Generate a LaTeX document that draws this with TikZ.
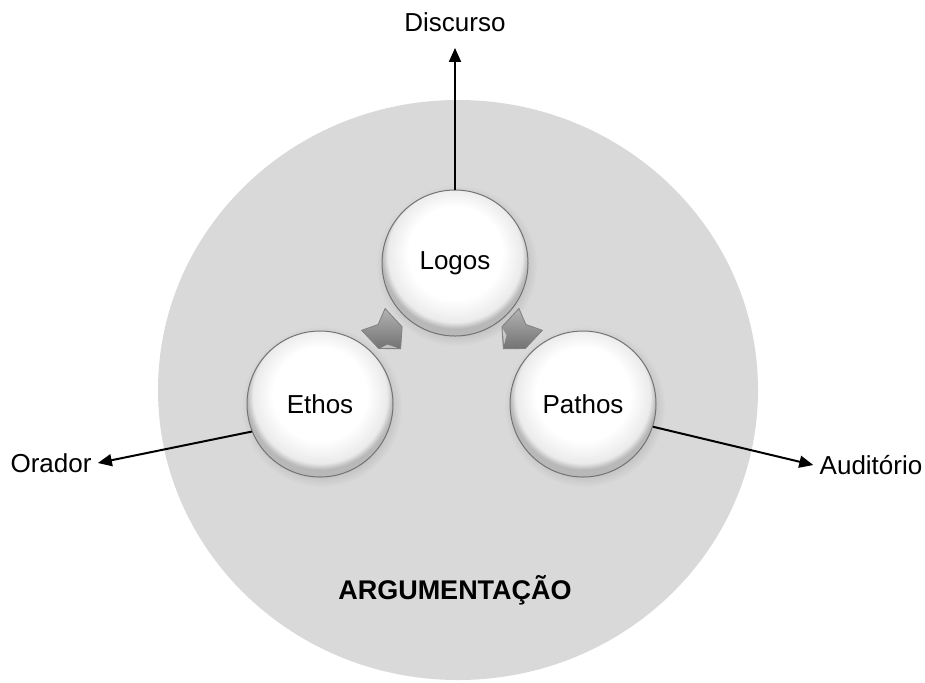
\documentclass[tikz,border=0pt]{standalone}
\usepackage{fontspec}
\setmainfont{Liberation Sans}
\usepackage{xcolor}
\usepackage{tikz}
\usetikzlibrary{arrows.meta,shadows}
\pgfdeclareradialshading{bolsh}{\pgfpoint{0bp}{5bp}}{color(0bp)=(white); color(16bp)=(white); color(23bp)=(black!8); color(25bp)=(black!28); color(50bp)=(black!28)}

\begin{document}
\begin{tikzpicture}[x=0.5pt,y=-0.5pt,
		lbl/.style={font=\fontsize{13}{15}\selectfont, inner sep=3pt},
		bol/.style={circle, minimum size=73pt, inner sep=0pt, draw=black!55, line width=0.5pt, shading=bolsh,
			circular drop shadow={opacity=0.25, shadow xshift=0.8pt, shadow yshift=-1.2pt}, font=\fontsize{13}{15}\selectfont},
		arr/.style={-{Triangle[length=7pt,width=6pt]}, line width=1pt},
		blk/.pic={\shade[top color=black!30, bottom color=black!55, draw=black!50, line width=0.4pt] (-10pt,8pt) -- (-6.5pt,0pt) -- (-10pt,-8pt) -- (2.5pt,-8pt) -- (10pt,0pt) -- (2.5pt,8pt) -- cycle;
			\fill[white, opacity=0.55] (3pt,-7pt) -- (8.5pt,-1pt) -- (4pt,-3.5pt) -- cycle;}]
	\useasboundingbox (0,0) rectangle (925,682);
	\fill[black!15] (458,390) ellipse [x radius=150pt, y radius=145pt];
	\node[bol] (logos) at (455,263) {Logos};
	\node[bol] (ethos) at (320,404) {Ethos};
	\node[bol] (pathos) at (583,404) {Pathos};
	\pic[rotate=-47] at (387,334) {blk};
	\pic[rotate=-133] at (517,334) {blk};
	\node[lbl] (discurso) at (455,22) {Discurso};
	\node[lbl] (orador) at (51,463) {Orador};
	\node[lbl] (auditorio) at (871,465) {Auditório};
	\node[font=\fontsize{13.5}{15}\selectfont\bfseries] (arg) at (455,590) {ARGUMENTAÇÃO};
	\draw[arr, shorten >=5pt] (logos.north) -- (discurso);
	\draw[arr] (ethos.202) -- (orador.east);
	\draw[arr] (pathos.-18) -- (auditorio.west);
\end{tikzpicture}
\end{document}
